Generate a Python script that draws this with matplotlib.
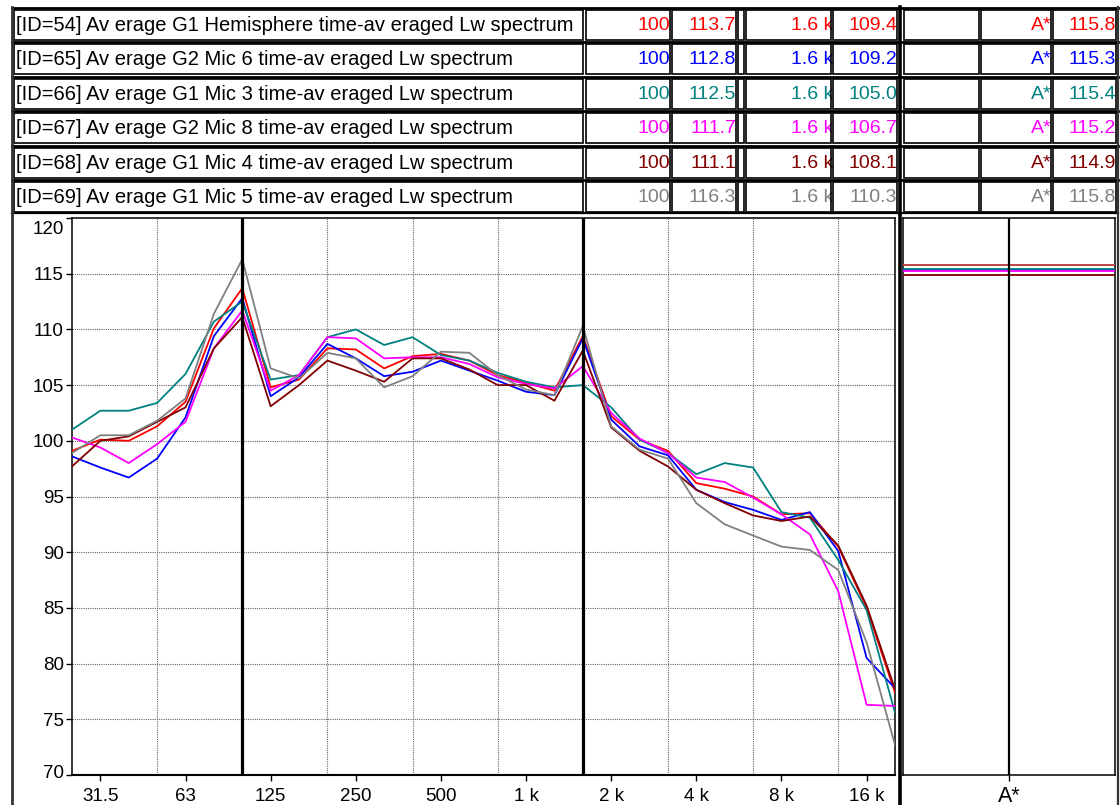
import matplotlib
matplotlib.use("Agg")
import matplotlib.pyplot as plt
import matplotlib.transforms as mtransforms
from matplotlib.patches import Rectangle

plt.rcParams['font.family'] = ['Liberation Sans', 'DejaVu Sans']

W, H = 1120, 805

# 1/3-octave bands, 25 Hz .. 20 kHz
bands = ["25", "31.5", "40", "50", "63", "80", "100", "125", "160", "200",
         "250", "315", "400", "500", "630", "800", "1 k", "1.25 k", "1.6 k", "2 k",
         "2.5 k", "3.15 k", "4 k", "5 k", "6.3 k", "8 k", "10 k", "12.5 k", "16 k", "20 k"]
tick_bands = ["31.5", "63", "125", "250", "500", "1 k", "2 k", "4 k", "8 k", "16 k"]
grid_bands = ["50", "200", "400", "800", "3.15 k", "6.3 k", "12.5 k"]
cursor_bands = ["100", "1.6 k"]

labels = [
    "[ID=54] Av erage G1 Hemisphere time-av eraged Lw spectrum",
    "[ID=65] Av erage G2 Mic 6 time-av eraged Lw spectrum",
    "[ID=66] Av erage G1 Mic 3 time-av eraged Lw spectrum",
    "[ID=67] Av erage G2 Mic 8 time-av eraged Lw spectrum",
    "[ID=68] Av erage G1 Mic 4 time-av eraged Lw spectrum",
    "[ID=69] Av erage G1 Mic 5 time-av eraged Lw spectrum",
]
colors = ["#ff0000", "#0000ff", "#008080", "#ff00ff", "#800000", "#808080"]

lw_54 = [99.1, 100.1, 100.0, 101.3, 103.5, 110.1, 113.7, 104.8, 105.5, 108.3,
         108.2, 106.5, 107.6, 107.8, 107.2, 105.9, 105.2, 104.5, 109.4, 102.2,
         100.1, 99.1, 96.2, 95.7, 95.0, 93.4, 93.5, 90.5, 85.0, 77.4]
lw_65 = [98.6, 97.6, 96.7, 98.4, 102.1, 109.4, 112.8, 104.0, 105.7, 108.7,
         107.4, 105.8, 106.2, 107.2, 106.3, 105.4, 104.4, 104.1, 109.2, 101.9,
         99.5, 98.7, 95.6, 94.5, 93.8, 92.9, 93.6, 90.1, 80.5, 77.8]
lw_66 = [101.0, 102.7, 102.7, 103.4, 106.0, 110.7, 112.5, 105.5, 105.9, 109.3,
         110.0, 108.6, 109.3, 107.7, 107.2, 106.1, 105.3, 104.8, 105.0, 103.0,
         100.1, 98.9, 97.0, 98.0, 97.6, 93.6, 93.1, 89.3, 84.8, 75.6]
lw_67 = [100.3, 99.4, 98.0, 99.7, 101.7, 108.3, 111.7, 104.5, 105.9, 109.3,
         109.2, 107.4, 107.5, 107.5, 106.9, 105.7, 105.1, 104.7, 106.7, 102.5,
         100.2, 98.9, 96.7, 96.3, 94.9, 93.4, 91.6, 86.5, 76.3, 76.2]
lw_68 = [97.7, 100.0, 100.4, 101.7, 103.0, 108.3, 111.1, 103.1, 105.0, 107.2,
         106.3, 105.3, 107.4, 107.4, 106.4, 105.0, 105.0, 103.6, 108.1, 101.2,
         99.1, 97.7, 95.6, 94.4, 93.3, 92.8, 93.2, 90.6, 85.2, 77.7]
lw_69 = [98.9, 100.5, 100.5, 101.8, 103.8, 111.4, 116.3, 106.5, 105.6, 107.9,
         107.4, 104.8, 105.8, 108.0, 107.9, 105.9, 104.6, 104.1, 110.3, 101.3,
         99.2, 98.4, 94.4, 92.5, 91.5, 90.5, 90.2, 88.4, 81.9, 72.7]
spectra = [lw_54, lw_65, lw_66, lw_67, lw_68, lw_69]
a_weighted = [115.8, 115.3, 115.4, 115.2, 114.9, 115.8]

FS = 13.5
FS_LABEL = 14.5
FS_VAL = 14


def px_box(l, t, r, b):
    return [l / W, 1 - b / H, (r - l) / W, (b - t) / H]


fig = plt.figure(figsize=(W / 100, H / 100), dpi=100)

# overlay in pixel coordinates for the header table and frame
ov = fig.add_axes([0, 0, 1, 1], zorder=0)
ov.set_xlim(0, W)
ov.set_ylim(H, 0)
ov.axis("off")

cells = [(14, 583), (586, 670), (672, 736), (738, 744), (746, 831),
         (833, 897), (904, 979), (981, 1051), (1053, 1116)]
row_h = 30
i_lo = bands.index(cursor_bands[0])
i_hi = bands.index(cursor_bands[1])
for r in range(6):
    top = 10 + 34.4 * r
    mid = top + row_h / 2
    c = colors[r]
    ov.text(16, mid + 0.5, labels[r], fontsize=FS_LABEL, va="center", ha="left",
            color="black")
    vals = [
        (670, cursor_bands[0]), (736, f"{spectra[r][i_lo]:.1f}"),
        (833, cursor_bands[1]), (897, f"{spectra[r][i_hi]:.1f}"),
        (1052, "A*"), (1116, f"{a_weighted[r]:.1f}"),
    ]
    for x, s in vals:
        ov.text(x, mid + 0.5, s, fontsize=FS_VAL, va="center", ha="right", color=c)
    for l, rr in cells:
        ov.add_patch(Rectangle((l, top), rr - l, row_h, fill=False,
                               ec="black", lw=1.2, zorder=3))
    ov.plot([12, 1118], [top - 2, top - 2], color="black", lw=2.0, zorder=4)
ov.plot([12, 1118], [213.5, 213.5], color="black", lw=1.6, zorder=4)

# vertical frame lines
ov.plot([12, 12], [7, H], color="#333333", lw=2.0, zorder=4)
ov.plot([899.5, 899.5], [7, H], color="black", lw=2.6, zorder=4)
ov.plot([1117.5, 1117.5], [7, H], color="#333333", lw=1.6, zorder=4)

# main spectrum panel
ax = fig.add_axes(px_box(72, 218, 895, 775), zorder=2)
x = list(range(len(bands)))
for vals, c in zip(spectra, colors):
    ax.plot(x, vals, color=c, lw=1.3, zorder=3)
ax.set_xlim(0, len(bands) - 1)
ax.set_ylim(70, 120)
for yv in range(75, 120, 5):
    ax.axhline(yv, color="#666666", lw=0.8, ls=(0, (1, 1)), zorder=1)
for b in grid_bands:
    ax.axvline(bands.index(b), color="#666666", lw=0.8, ls=(0, (1, 1)), zorder=1)
for b in cursor_bands:
    ax.axvline(bands.index(b), color="black", lw=2.3, zorder=4)
ax.set_xticks([bands.index(b) for b in tick_bands])
ax.set_xticklabels(tick_bands)
ax.set_yticks(range(70, 121, 5))
ax.tick_params(direction="out", length=4, width=1, labelsize=FS, pad=2)
ax.tick_params(axis="x", pad=5)
for s in ax.spines.values():
    s.set_linewidth(1.1)
ax.spines["bottom"].set_linewidth(1.5)

# keep the end labels inside the plot height
ylabels = ax.get_yticklabels()
ylabels[-1].set_transform(ylabels[-1].get_transform()
                          + mtransforms.ScaledTranslation(0, -9 / 100, fig.dpi_scale_trans))
ylabels[0].set_transform(ylabels[0].get_transform()
                         + mtransforms.ScaledTranslation(0, 4 / 100, fig.dpi_scale_trans))

# A-weighted totals panel
ax2 = fig.add_axes(px_box(903, 218, 1115, 775), zorder=2)
ax2.set_xlim(0, 2)
ax2.set_ylim(70, 120)
ax2.axvline(1, color="black", lw=1.6, zorder=4)
for v, c in zip(a_weighted, colors):
    ax2.axhline(v, color=c, lw=1.3, zorder=3, alpha=0.55 if c == "#808080" else 1)
ax2.set_xticks([1])
ax2.set_xticklabels(["A*"])
ax2.set_yticks([])
ax2.tick_params(direction="out", length=4, width=1, labelsize=15.5, pad=4)
for s in ax2.spines.values():
    s.set_linewidth(1.1)

fig.savefig("out.png", dpi=100)
